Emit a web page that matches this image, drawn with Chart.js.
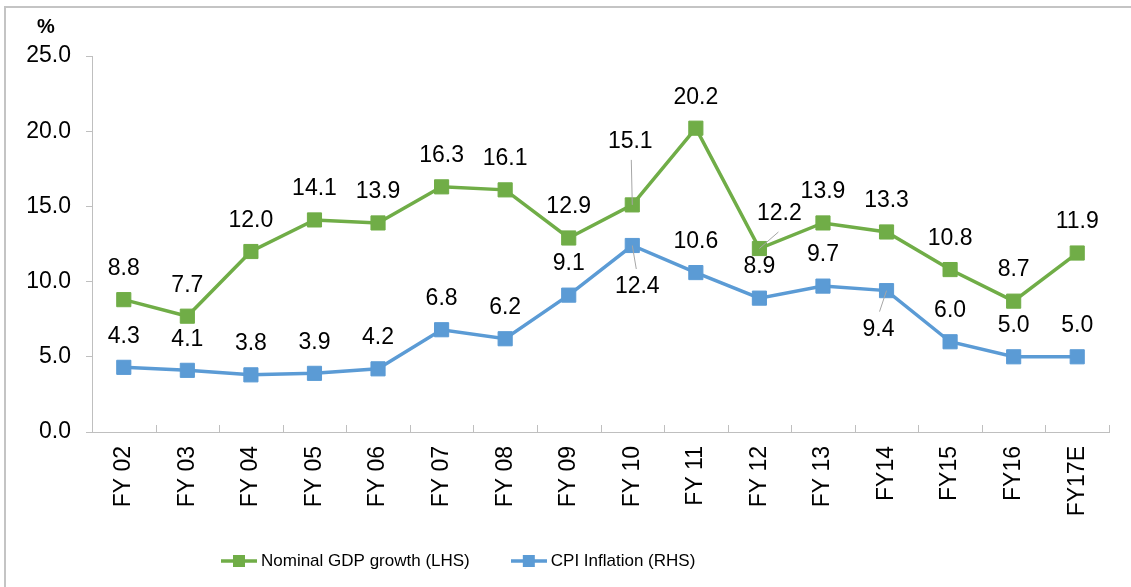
<!DOCTYPE html>
<html><head><meta charset="utf-8">
<script src="https://cdn.jsdelivr.net/npm/chart.js@4.4.0/dist/chart.umd.min.js"></script>
<style>
html,body{margin:0;padding:0;background:#fff;}
#wrap{position:relative;width:1131px;height:587px;overflow:hidden;}
#frame{position:absolute;left:4px;top:6px;right:-4px;bottom:-4px;border-top:2px solid #c4c4c4;border-left:2px solid #c4c4c4;pointer-events:none;}
canvas{display:block;}
</style></head><body>
<div id="wrap"><canvas id="c" width="1131" height="587"></canvas><div id="frame"></div></div>
<script>
// ---- data ----
const categories = ['FY 02','FY 03','FY 04','FY 05','FY 06','FY 07','FY 08','FY 09','FY 10','FY 11','FY 12','FY 13','FY14','FY15','FY16','FY17E'];
const gdpGrowth = [8.8, 7.7, 12.0, 14.1, 13.9, 16.3, 16.1, 12.9, 15.1, 20.2, 12.2, 13.9, 13.3, 10.8, 8.7, 11.9];
const cpiInflation = [4.3, 4.1, 3.8, 3.9, 4.2, 6.8, 6.2, 9.1, 12.4, 10.6, 8.9, 9.7, 9.4, 6.0, 5.0, 5.0];
const yTickValues = [0, 5, 10, 15, 20, 25];
const seriesNames = ['Nominal GDP growth (LHS)', 'CPI Inflation (RHS)'];

// ---- label placement (style, not data) ----
const gdpLabelOffsets = [];
gdpLabelOffsets[8] = [-2, -63];
gdpLabelOffsets[10] = [20, -34.5];
const cpiLabelOffsets = [];
cpiLabelOffsets[8] = [5, 41.5];
cpiLabelOffsets[12] = [-8, 39];

const GREEN = '#70AD47', BLUE = '#5B9BD5', AXIS = '#BFBFBF';
const FONT = '"Liberation Sans", Arial, Helvetica, sans-serif';
Chart.defaults.font.family = FONT;
Chart.defaults.font.size = 23;
Chart.defaults.color = '#000';

function legendIcon(color) {
  const c = document.createElement('canvas');
  c.width = 36; c.height = 14;
  const g = c.getContext('2d');
  g.strokeStyle = color; g.lineWidth = 3.5;
  g.beginPath(); g.moveTo(0, 7); g.lineTo(36, 7); g.stroke();
  g.fillStyle = color; g.fillRect(12, 1, 12, 12);
  return c;
}
const icons = [legendIcon(GREEN), legendIcon(BLUE)];

const decorPlugin = {
  id: 'decor',
  afterLayout(chart) {
    const lg = chart.legend;
    if (lg) { lg.left = 180; lg.top = 507; lg.bottom = 587; }
  },
  beforeDatasetsDraw(chart) {
    const ctx = chart.ctx, xs = chart.scales.x, n = categories.length;
    ctx.save();
    ctx.strokeStyle = AXIS; ctx.lineWidth = 1;
    for (let i = 0; i <= n; i++) {
      const x = Math.round(xs.left + i * (xs.right - xs.left) / n) + 0.5;
      ctx.beginPath(); ctx.moveTo(x, xs.top - 7); ctx.lineTo(x, xs.top); ctx.stroke();
    }
    ctx.restore();
  },
  afterDatasetsDraw(chart) {
    const ctx = chart.ctx;
    ctx.save();
    ctx.font = '23px ' + FONT;
    ctx.textAlign = 'center'; ctx.textBaseline = 'middle';
    chart.data.datasets.forEach((ds, di) => {
      const meta = chart.getDatasetMeta(di);
      meta.data.forEach((pt, i) => {
        const o = ds.labelOffsets[i];
        const dx = o ? o[0] : 0, dy = o ? o[1] : -31;
        const lx = pt.x + dx, ly = pt.y + dy;
        if (o) {
          const sy = ly + (dy < 0 ? 18 : -18);
          ctx.strokeStyle = '#A6A6A6'; ctx.lineWidth = 1;
          ctx.beginPath(); ctx.moveTo(lx + (dx < 0 ? 1 : dx > 0 ? -1 : 1), sy); ctx.lineTo(pt.x, pt.y); ctx.stroke();
        }
        ctx.fillStyle = '#000';
        ctx.fillText(ds.data[i].toFixed(1), lx, ly);
      });
    });
    ctx.font = 'bold 20px ' + FONT;
    ctx.fillText('%', 46, 27);
    ctx.restore();
  }
};

new Chart(document.getElementById('c'), {
  type: 'line',
  data: {
    labels: categories,
    datasets: [
      { label: seriesNames[0], data: gdpGrowth, labelOffsets: gdpLabelOffsets,
        borderColor: GREEN, backgroundColor: GREEN, borderWidth: 3.5,
        pointStyle: 'rect', pointRadius: 10, pointBorderWidth: 1, pointBackgroundColor: GREEN, pointBorderColor: GREEN, tension: 0 },
      { label: seriesNames[1], data: cpiInflation, labelOffsets: cpiLabelOffsets,
        borderColor: BLUE, backgroundColor: BLUE, borderWidth: 3.5,
        pointStyle: 'rect', pointRadius: 10, pointBorderWidth: 1, pointBackgroundColor: BLUE, pointBorderColor: BLUE, tension: 0 }
    ]
  },
  options: {
    responsive: false, animation: false, devicePixelRatio: 1,
    layout: { padding: { top: 56, left: 0, right: 22, bottom: 0 } },
    scales: {
      x: {
        offset: true,
        grid: { display: false, drawTicks: false },
        border: { display: true, color: AXIS, width: 1 },
        ticks: { minRotation: 90, maxRotation: 90, padding: 14, font: { size: 23 }, color: '#000', autoSkip: false },
        afterFit(s) { const lh = s.chart.legend ? s.chart.legend.height : 55; s.height = 587 - lh - 432; }
      },
      y: {
        min: 0, max: 25,
        afterBuildTicks(s) { s.ticks = yTickValues.map(v => ({ value: v })); },
        grid: { drawOnChartArea: false, drawTicks: true, tickLength: 6, color: AXIS },
        border: { display: true, color: AXIS, width: 1 },
        ticks: { padding: 15, font: { size: 23 }, color: '#000', callback: v => Number(v).toFixed(1) },
        afterFit(s) { s.width = 92; }
      }
    },
    plugins: {
      tooltip: { enabled: false },
      legend: {
        position: 'bottom', align: 'start', maxHeight: 55,
        labels: {
          usePointStyle: true, pointStyleWidth: 27, padding: 45.5,
          font: { size: 17 }, color: '#000',
          generateLabels(chart) {
            const items = Chart.defaults.plugins.legend.labels.generateLabels(chart);
            items.forEach((it, i) => { it.pointStyle = icons[i]; });
            return items;
          }
        }
      }
    }
  },
  plugins: [decorPlugin]
});
</script>
</body></html>
